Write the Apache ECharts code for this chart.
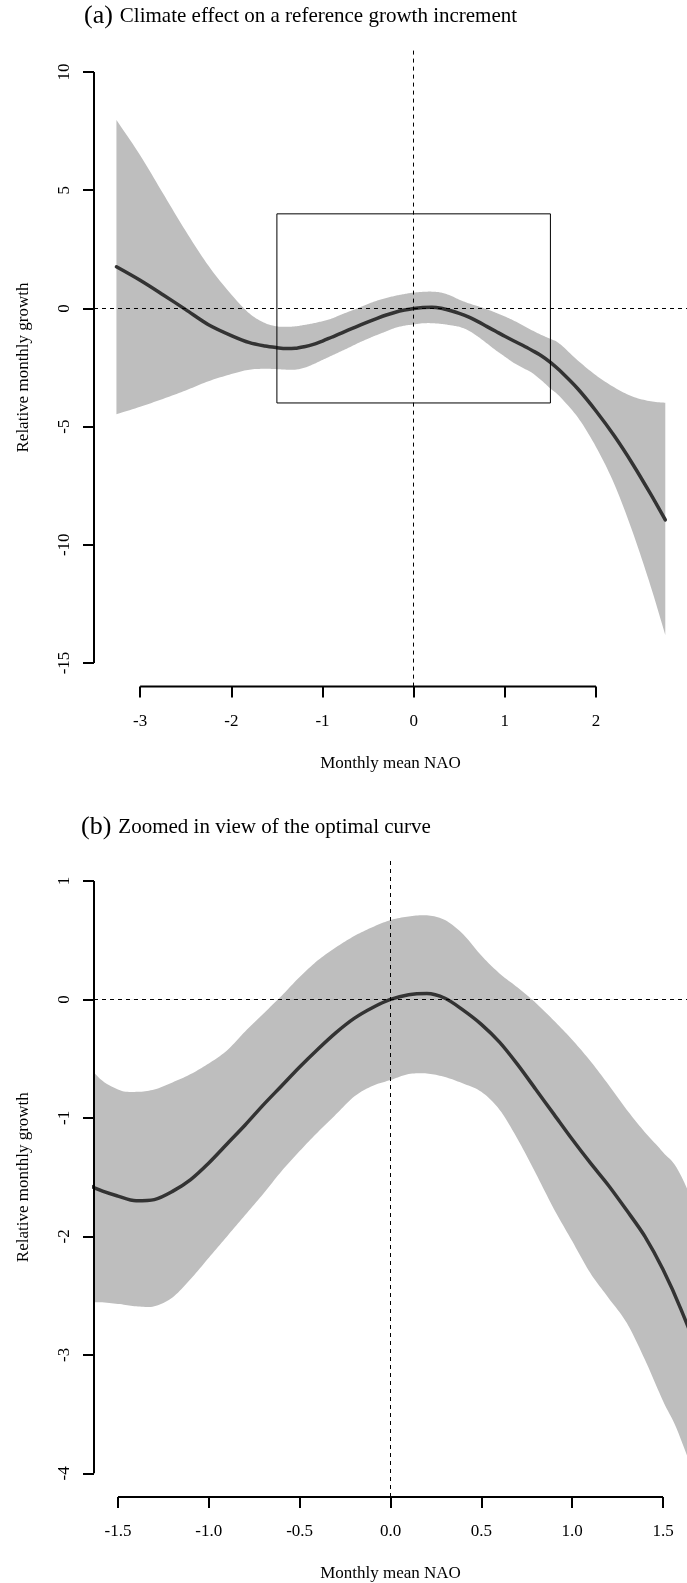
<!DOCTYPE html>
<html>
<head>
<meta charset="utf-8">
<script src="https://cdn.jsdelivr.net/npm/echarts@6/dist/echarts.min.js"></script>
<style>
html,body{margin:0;padding:0;background:#fff;}
#chart{width:687px;height:1583px;}
</style>
</head>
<body>
<div id="chart"></div>
<script>
// ---- data ----
const nao = [-3.26,-3.0,-2.75,-2.5,-2.25,-2.0,-1.8,-1.63,-1.5,-1.4,-1.3,-1.2,-1.1,-1.0,-0.9,-0.8,-0.7,-0.6,-0.5,-0.4,-0.3,-0.2,-0.1,0,0.1,0.2,0.3,0.4,0.5,0.6,0.7,0.8,0.9,1.0,1.1,1.2,1.3,1.4,1.5,1.6,1.8,2.0,2.2,2.4,2.6,2.76];
const fitValues = [1.76,1.19,0.58,-0.05,-0.69,-1.15,-1.45,-1.59,-1.66,-1.70,-1.69,-1.62,-1.52,-1.38,-1.22,-1.06,-0.89,-0.73,-0.57,-0.42,-0.28,-0.16,-0.07,0.0,0.04,0.05,0.01,-0.09,-0.21,-0.36,-0.55,-0.76,-0.97,-1.18,-1.38,-1.57,-1.78,-2.0,-2.28,-2.62,-3.40,-4.34,-5.39,-6.57,-7.86,-8.95];
const upperValues = [7.97,6.48,4.87,3.27,1.8,0.59,-0.22,-0.62,-0.76,-0.78,-0.76,-0.70,-0.63,-0.54,-0.43,-0.27,-0.12,0.03,0.19,0.33,0.44,0.535,0.61,0.67,0.70,0.71,0.67,0.55,0.37,0.22,0.10,-0.03,-0.18,-0.34,-0.52,-0.72,-0.93,-1.12,-1.29,-1.49,-2.2,-2.83,-3.34,-3.73,-3.93,-3.99];
const lowerValues = [-4.48,-4.16,-3.83,-3.47,-3.08,-2.78,-2.59,-2.556,-2.57,-2.59,-2.59,-2.515,-2.36,-2.18,-2.0,-1.82,-1.64,-1.45,-1.28,-1.12,-0.97,-0.82,-0.73,-0.68,-0.63,-0.625,-0.655,-0.71,-0.78,-0.93,-1.18,-1.47,-1.77,-2.04,-2.31,-2.52,-2.73,-3.04,-3.39,-3.72,-4.61,-5.86,-7.43,-9.44,-11.76,-13.82];

const xTicksA = [-3,-2,-1,0,1,2];
const yTicksA = [-15,-10,-5,0,5,10];
const xTicksB = [-1.5,-1.0,-0.5,0.0,0.5,1.0,1.5];
const yTicksB = [-4,-3,-2,-1,0,1];
const zoomBoxX = [-1.5,1.5];
const zoomBoxY = [-4,4];

const titleA = 'Climate effect on a reference growth increment';
const titleB = 'Zoomed in view of the optimal curve';
const xName = 'Monthly mean NAO';
const yName = 'Relative monthly growth';

// axis extents (plot region)
const xRangeA = [-3.506, 2.998];
const yRangeA = [-16, 11];
const xRangeB = [-1.632, 1.632];
const yRangeB = [-4.2, 1.2];

// ---- chart ----
const FONT = 'Liberation Serif';
const chart = echarts.init(document.getElementById('chart'), null, {renderer:'canvas'});

function xAxisCfg(idx, range, ticks, fmt){
  return {
    type:'value', gridIndex:idx, min:range[0], max:range[1],
    name:xName, nameLocation:'middle', nameGap:68,
    nameTextStyle:{fontFamily:FONT, fontSize:17, color:'#000'},
    axisLine:{show:false, onZero:false},
    splitLine:{show:false},
    axisTick:{show:true, length:11, customValues:ticks, lineStyle:{color:'#000', width:2}},
    axisLabel:{customValues:ticks, margin:26, fontFamily:FONT, fontSize:17, color:'#000', formatter:fmt}
  };
}
function yAxisCfg(idx, range, ticks){
  return {
    type:'value', gridIndex:idx, min:range[0], max:range[1],
    name:yName, nameLocation:'middle', nameGap:62, nameRotate:90,
    nameTextStyle:{fontFamily:FONT, fontSize:17, color:'#000'},
    axisLine:{show:false, onZero:false},
    splitLine:{show:false},
    axisTick:{show:true, length:11, customValues:ticks, lineStyle:{color:'#000', width:2}},
    axisLabel:{customValues:ticks, rotate:90, margin:21, fontFamily:FONT, fontSize:17, color:'#000', formatter:v=>String(v)}
  };
}

// Catmull-Rom sampling of a polyline in pixel space (rendering smoothness only)
function smoothPts(p){
  const out = [];
  const n = p.length;
  for (let i=0;i<n-1;i++){
    const p0 = p[Math.max(i-1,0)], p1 = p[i], p2 = p[i+1], p3 = p[Math.min(i+2,n-1)];
    const steps = 10;
    for (let s=0;s<steps;s++){
      const t = s/steps, t2=t*t, t3=t2*t;
      const f = (a,b,c,d)=>0.5*((2*b)+(-a+c)*t+(2*a-5*b+4*c-d)*t2+(-a+3*b-3*c+d)*t3);
      out.push([f(p0[0],p1[0],p2[0],p3[0]), f(p0[1],p1[1],p2[1],p3[1])]);
    }
  }
  out.push(p[n-1]);
  return out;
}

const bandData = nao.map((x,i)=>[x, lowerValues[i], upperValues[i]]);
function bandRender(params, api){
  if (params.dataIndex !== 0) return null;
  const up = nao.map((x,i)=>api.coord([x, upperValues[i]]));
  const lo = nao.map((x,i)=>api.coord([x, lowerValues[i]]));
  const pts = smoothPts(up).concat(smoothPts(lo).reverse());
  const cs = params.coordSys;
  return {
    type:'polygon',
    shape:{points:pts},
    style:{fill:'#bebebe', stroke:null},
    clipPath:{type:'rect', shape:{x:cs.x, y:cs.y, width:cs.width, height:cs.height}}
  };
}
const fitData = nao.map((x,i)=>[x, fitValues[i]]);
const boxData = [[zoomBoxX[0],zoomBoxY[0]],[zoomBoxX[1],zoomBoxY[0]],[zoomBoxX[1],zoomBoxY[1]],[zoomBoxX[0],zoomBoxY[1]],[zoomBoxX[0],zoomBoxY[0]]];

function panelSeries(idx, xr, yr, xt, yt){
  return [
    {type:'custom', xAxisIndex:idx, yAxisIndex:idx, data:bandData, renderItem:bandRender, z:1, silent:true,
     encode:{x:0, y:[1,2]}},
    {type:'line', xAxisIndex:idx, yAxisIndex:idx, data:[[0,0]], symbol:'none', lineStyle:{opacity:0}, z:2, silent:true,
     markLine:{silent:true, symbol:['none','none'], label:{show:false}, animation:false,
       lineStyle:{type:[4,4], color:'#000', width:1},
       data:[{xAxis:0},{yAxis:0}]}},
    {type:'line', xAxisIndex:idx, yAxisIndex:idx, data:fitData, symbol:'none', smooth:0.3, z:3, silent:true,
     lineStyle:{color:'#333333', width:3.5, cap:'round'}},
    // axis lines spanning the tick range (R style)
    {type:'line', xAxisIndex:idx, yAxisIndex:idx, data:[[xt[0], yr[0]],[xt[xt.length-1], yr[0]]], symbol:'none', clip:false, z:5, silent:true,
     lineStyle:{color:'#000', width:2}},
    {type:'line', xAxisIndex:idx, yAxisIndex:idx, data:[[xr[0], yt[0]],[xr[0], yt[yt.length-1]]], symbol:'none', clip:false, z:5, silent:true,
     lineStyle:{color:'#000', width:2}}
  ];
}

const series = panelSeries(0, xRangeA, yRangeA, xTicksA, yTicksA)
  .concat([{type:'line', xAxisIndex:0, yAxisIndex:0, data:boxData, symbol:'none', z:4, silent:true,
            lineStyle:{color:'#000', width:1}}])
  .concat(panelSeries(1, xRangeB, yRangeB, xTicksB, yTicksB));

const titleRich = {
  p:{fontFamily:FONT, fontSize:26, fontWeight:'normal', color:'#000', lineHeight:28},
  t:{fontFamily:FONT, fontSize:21, fontWeight:'normal', color:'#000', lineHeight:28, padding:[0,0,0,2]}
};

chart.setOption({
  animation:false,
  backgroundColor:'#fff',
  title:[
    {text:'{p|(a)} {t|'+titleA+'}', left:84, top:2, padding:0, textStyle:{fontWeight:'normal', rich:titleRich}},
    {text:'{p|(b)} {t|'+titleB+'}', left:81, top:813, padding:0, textStyle:{fontWeight:'normal', rich:titleRich}}
  ],
  grid:[
    {left:94, top:48.4, width:601, height:638.2, containLabel:false},
    {left:94, top:857.3, width:601, height:640.4, containLabel:false}
  ],
  xAxis:[
    xAxisCfg(0, xRangeA, xTicksA, v=>String(v)),
    xAxisCfg(1, xRangeB, xTicksB, v=>v.toFixed(1))
  ],
  yAxis:[
    yAxisCfg(0, yRangeA, yTicksA),
    yAxisCfg(1, yRangeB, yTicksB)
  ],
  series:series
});
</script>
</body>
</html>
